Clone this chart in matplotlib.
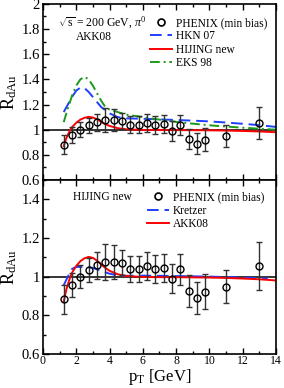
import matplotlib
matplotlib.use('Agg')
import matplotlib.pyplot as plt
from matplotlib.ticker import MultipleLocator, FormatStrFormatter
from matplotlib.lines import Line2D

plt.rcParams['font.family'] = ['Liberation Serif', 'DejaVu Serif']
plt.rcParams['mathtext.fontset'] = 'custom'
plt.rcParams['mathtext.rm'] = 'Liberation Serif'
plt.rcParams['mathtext.it'] = 'Liberation Serif:italic'

# PHENIX (min bias) data
pt_data = [1.25, 1.75, 2.25, 2.75, 3.25, 3.75, 4.25, 4.75, 5.25, 5.75,
           6.25, 6.75, 7.25, 7.75, 8.25, 8.75, 9.25, 9.75, 11.0, 13.0]
r_data = [0.882, 0.956, 0.999, 1.034, 1.059, 1.076, 1.076, 1.071, 1.039, 1.039,
          1.054, 1.039, 1.046, 0.990, 1.037, 0.925, 0.887, 0.922, 0.948, 1.054]
r_err = [0.075, 0.064, 0.060, 0.060, 0.069, 0.095, 0.090, 0.065, 0.067, 0.067,
         0.073, 0.071, 0.073, 0.076, 0.081, 0.081, 0.083, 0.092, 0.086, 0.125]

# red curve (HIJING new / AKK08)
pt_red = [1.25, 1.4, 1.5, 1.65, 1.75, 2.0, 2.25, 2.5, 2.75, 3.0, 3.25, 3.5,
          3.75, 4.0, 4.5, 5.0, 6.0, 7.0, 8.0, 9.0, 10.0, 11.0, 12.0, 13.0, 14.0]
r_red = [0.87, 0.93, 0.96, 1.0, 1.02, 1.055, 1.08, 1.095, 1.102, 1.097, 1.083, 1.063,
         1.045, 1.03, 1.012, 1.003, 0.998, 0.997, 0.997, 0.996, 0.995, 0.993, 0.99, 0.986, 0.98]

# HKN 07
pt_hkn = [1.25, 1.5, 1.75, 2.0, 2.25, 2.5, 2.75, 3.0, 3.25, 3.5, 4.0, 4.5,
          5.0, 6.0, 7.0, 8.0, 9.0, 10.0, 11.0, 12.0, 13.0, 14.0]
r_hkn = [1.14, 1.2, 1.26, 1.31, 1.335, 1.33, 1.3, 1.26, 1.22, 1.18, 1.13, 1.1,
         1.09, 1.087, 1.082, 1.077, 1.072, 1.066, 1.057, 1.047, 1.036, 1.022]

# EKS 98
pt_eks = [1.25, 1.5, 1.75, 2.0, 2.25, 2.5, 2.75, 3.0, 3.25, 3.5, 3.75, 4.0,
          4.5, 5.0, 6.0, 7.0, 8.0, 9.0, 10.0, 11.0, 12.0, 13.0, 14.0]
r_eks = [1.06, 1.17, 1.27, 1.35, 1.4, 1.42, 1.4, 1.35, 1.29, 1.23, 1.18, 1.16,
         1.14, 1.12, 1.1, 1.08, 1.062, 1.048, 1.035, 1.025, 1.016, 1.008, 1.0]

# Kretzer
pt_kre = [1.25, 1.5, 1.75, 2.0, 2.5, 3.0, 3.5, 4.0, 4.5, 5.0, 6.0, 8.0,
          10.0, 12.0, 13.5]
r_kre = [0.955, 1.0, 1.04, 1.05, 1.05, 1.045, 1.03, 1.015, 1.007, 1.004, 1.005, 1.003,
         1.0, 0.995, 0.99]

fig = plt.figure(figsize=(2.84, 3.88), dpi=100)
ax1 = fig.add_axes([0.151, 0.536, 0.821, 0.454])
ax2 = fig.add_axes([0.151, 0.088, 0.821, 0.448])


def style(ax, ymin, ymax):
    ax.set_xlim(0, 14)
    ax.set_ylim(ymin, ymax)
    ax.xaxis.set_major_locator(MultipleLocator(2))
    ax.xaxis.set_minor_locator(MultipleLocator(1))
    ax.yaxis.set_major_locator(MultipleLocator(0.2))
    ax.yaxis.set_minor_locator(MultipleLocator(0.1))
    ax.yaxis.set_major_formatter(FormatStrFormatter('%g'))
    ax.tick_params(which='both', direction='in', top=True, right=False)
    ax.tick_params(which='major', length=4, width=1)
    ax.tick_params(which='minor', length=2, width=1)
    ax.tick_params(axis='y', labelsize=10.5, pad=2)
    ax.tick_params(axis='x', labelsize=8.5, pad=1)
    for s in ax.spines.values():
        s.set_linewidth(1.2)
    ax.axhline(1.0, color='black', lw=1.1, zorder=1)
    ax.set_ylabel(r'R$_{\rm dAu}$', fontsize=13, labelpad=2)


def phenix(ax):
    ax.errorbar(pt_data, r_data, yerr=r_err, fmt='o', mfc='none', mec='black',
                ms=5, mew=1, ecolor='#333333', elinewidth=1, capsize=2.5,
                capthick=1, zorder=5)
    return Line2D([], [], ls='none', marker='o', mfc='none', mec='black', ms=5, mew=1.2)


leg_kw = dict(frameon=False, fontsize=8.3, handlelength=1.9, handletextpad=0.35,
              labelspacing=0.12, borderpad=0, borderaxespad=0, loc='upper left')

style(ax1, 0.6, 2.0)
h0 = phenix(ax1)
h1, = ax1.plot(pt_hkn, r_hkn, color='#1f3fff', ls=(0, (6, 3)), lw=1.4)
h2, = ax1.plot(pt_red, r_red, color='red', lw=1.4)
h3, = ax1.plot(pt_eks, r_eks, color='#1a9a1a', ls=(0, (5, 2, 1, 2)), lw=1.4)
ax1.tick_params(axis='x', labelbottom=False)
ax1.text(0.065, 0.892, r'$\sqrt{\rm s}$ = 200 GeV, $\pi^0$', transform=ax1.transAxes,
         fontsize=8.5, va='center')
ax1.text(0.14, 0.812, 'AKK08', transform=ax1.transAxes, fontsize=8.3, va='center')
ax1.legend([h0, h1, h2, h3], ['PHENIX (min bias)', 'HKN 07', 'HIJING new', 'EKS 98'],
           bbox_to_anchor=(0.459, 0.925), **leg_kw)

style(ax2, 0.6, 1.5)
g0 = phenix(ax2)
g1, = ax2.plot(pt_kre, r_kre, color='#1f3fff', ls=(0, (6, 3)), lw=1.4)
g2, = ax2.plot(pt_red, r_red, color='red', lw=1.4)
ax2.text(0.13, 0.902, 'HIJING new', transform=ax2.transAxes, fontsize=8.3, va='center')
ax2.legend([g0, g1, g2], ['PHENIX (min bias)', 'Kretzer', 'AKK08'],
           bbox_to_anchor=(0.446, 0.934), **leg_kw)
ax2.set_xlabel(r'p$_{\rm T}$ [GeV]', fontsize=12, labelpad=0)

fig.savefig('out.png', dpi=100)
